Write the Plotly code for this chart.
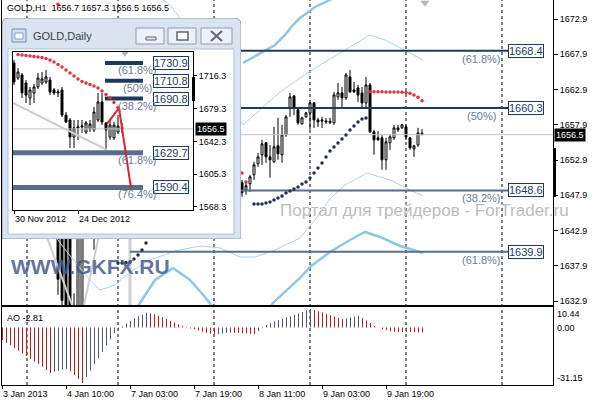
import plotly.graph_objects as go

W, H = 596, 400
FONT = "Liberation Sans"

# ======================= GOLD,H1 (main chart) =======================
h1_bar = [14, 15, 16, 17, 18, 19, 20, 21, 23,
          60, 61, 62, 63, 64, 65, 66, 67, 68, 69, 70, 71, 72, 73, 74, 75, 76, 77, 78, 79,
          80, 81, 82, 83, 84, 85, 86, 87, 88, 89, 90, 91, 92, 93, 94, 95, 96, 97, 98, 99,
          100, 101, 102, 103, 104, 105]
h1_open = [1648.0, 1645.0, 1646.0, 1643.0, 1629.0, 1630.0, 1631.5, 1647.0, 1648.0,
           1649.68, 1648.69, 1649.54, 1650.81, 1652.37, 1653.65, 1655.35, 1653.36, 1652.65, 1654.92,
           1653.65, 1656.48, 1660.30, 1662.00, 1660.02, 1658.04, 1659.03, 1659.59, 1661.01, 1658.60,
           1658.60, 1658.46, 1658.20, 1658.18, 1661.86, 1662.43, 1661.72, 1664.69, 1662.85, 1663.14,
           1662.43, 1661.01, 1663.56, 1656.90, 1656.05, 1656.05, 1652.94, 1655.35, 1656.05, 1657.19,
           1657.47, 1657.61, 1656.05, 1654.50, 1655.06, 1656.7]
h1_high = [1650.0, 1647.0, 1647.5, 1645.0, 1634.0, 1648.0, 1649.0, 1650.0, 1650.0,
           1650.10, 1649.68, 1650.81, 1652.65, 1653.93, 1655.77, 1655.49, 1655.06, 1657.61, 1658.89,
           1657.90, 1659.31, 1662.43, 1662.14, 1660.44, 1659.03, 1659.73, 1661.15, 1661.15, 1658.89,
           1659.03, 1658.89, 1658.90, 1662.57, 1663.84, 1663.28, 1665.26, 1665.69, 1663.99, 1663.56,
           1663.28, 1664.69, 1663.84, 1657.19, 1657.00, 1656.48, 1656.05, 1656.48, 1657.90, 1657.90,
           1658.04, 1657.90, 1656.20, 1655.06, 1657.47, 1657.3]
h1_low = [1633.8, 1630.0, 1628.0, 1626.0, 1626.5, 1629.0, 1630.0, 1643.0, 1640.2,
          1647.70, 1647.98, 1648.40, 1650.10, 1651.94, 1652.23, 1652.51, 1650.39, 1652.51, 1652.94,
          1652.51, 1656.20, 1659.03, 1659.31, 1657.90, 1657.90, 1658.89, 1657.19, 1657.47, 1657.61,
          1657.47, 1658.04, 1658.00, 1657.90, 1661.44, 1660.44, 1661.44, 1662.43, 1662.43, 1661.15,
          1660.44, 1660.30, 1656.76, 1653.65, 1655.63, 1651.52, 1651.52, 1654.35, 1655.77, 1656.90,
          1657.33, 1655.77, 1654.35, 1653.36, 1654.78, 1656.5]
h1_close = [1636.0, 1633.0, 1630.0, 1628.5, 1631.0, 1646.0, 1647.5, 1648.5, 1647.0,
            1648.26, 1649.26, 1650.53, 1652.23, 1653.36, 1655.20, 1653.36, 1652.94, 1654.78, 1653.79,
            1656.48, 1659.03, 1661.86, 1660.30, 1658.18, 1658.89, 1659.59, 1661.01, 1658.60, 1658.32,
            1658.46, 1658.32, 1658.40, 1662.14, 1662.43, 1661.72, 1664.98, 1662.57, 1662.57, 1662.14,
            1661.01, 1663.56, 1656.90, 1655.77, 1655.77, 1652.94, 1655.49, 1656.20, 1657.47, 1657.47,
            1657.90, 1656.20, 1654.64, 1654.92, 1656.76, 1656.5]
h1_last = 1656.5
h1_header = "GOLD,H1  1656.7 1657.3 1656.5 1656.5"

# Parabolic SAR (below price = dark, above price = red)
sar_up_bar = [29, 30, 31, 32, 33, 34, 35, 36,
              63, 64, 65, 66, 67, 68, 69, 70, 71, 72, 73, 74, 75, 76, 77, 78, 79, 80, 81, 82,
              83, 84, 85, 86, 87, 88, 89, 90, 91]
sar_up_val = [1638.31, 1638.31, 1638.38, 1638.45, 1638.88, 1639.45, 1640.15, 1641.15,
              1646.68, 1646.68, 1646.68, 1646.82, 1646.96, 1647.24, 1647.53, 1647.81, 1648.24,
              1648.52, 1648.80, 1649.09, 1649.51, 1649.80, 1650.36, 1651.07, 1651.78, 1652.49,
              1653.34, 1654.19, 1654.76, 1655.32, 1655.89, 1656.46, 1657.17, 1657.74, 1658.30,
              1658.73, 1658.87]
sar_dn_bar = [14, 60, 61, 92, 93, 94, 95, 96, 97, 98, 99, 100, 101, 102, 103, 104, 105]
sar_dn_val = [1675.0, 1651.07, 1649.80, 1662.60, 1662.60, 1662.59, 1662.58, 1662.57, 1662.56,
              1662.55, 1662.54, 1662.52, 1662.50, 1662.37, 1662.13, 1661.80, 1661.32]

# Bollinger-type envelopes (thin and thick light-blue curves)
thin_up_bar = [37, 42, 46.25, 53.25, 60.25, 64.5, 69.5, 74.5, 79.5, 85.75, 92, 95.75, 99.5, 105.25]
thin_up_val = [1677.0, 1674.9, 1671.77, 1664.97, 1657.88, 1660.0, 1662.56, 1664.54, 1666.38,
               1668.51, 1670.64, 1669.93, 1668.79, 1667.09]
thin_lo_bar = [12, 14.5, 18.25, 22, 24.5, 28.25, 32, 37, 43.25, 49.5, 54.5, 59.5, 63.25, 68.25,
               74.5, 78.25, 82, 85.75, 91.25, 97, 102, 105.25]
thin_lo_val = [1643.27, 1641.15, 1638.45, 1635.9, 1634.48, 1635.19, 1637.03, 1638.74, 1640.01,
               1640.72, 1640.44, 1639.16, 1639.16, 1640.15, 1641.86, 1644.41, 1647.38, 1649.37,
               1651.07, 1650.08, 1648.66, 1647.81]
thick_up_bar = [60.25, 65, 68.25, 70.75, 72.5, 74.5, 78.25, 82, 84.5]
thick_up_val = [1666.67, 1668.23, 1669.22, 1670.64, 1671.91, 1673.05, 1674.61, 1675.6, 1676.45]
thick_lo_bar = [29.5, 34.5, 38.25, 42.75, 47, 50.75, 53.25, 59.5, 65.75, 67.75, 74.5, 77, 82,
                87, 90.75, 94.5, 99.5, 105.25]
thick_lo_val = [1628.8, 1632.64, 1635.9, 1637.6, 1635.9, 1633.49, 1631.65, 1628.8, 1630.94,
                1632.64, 1636.18, 1637.74, 1639.87, 1641.57, 1642.71, 1642.0, 1640.72, 1639.73]

# light-grey trend lines
gray1_bar = [8, 18]
gray1_val = [1646.9, 1631.6]
gray2_bar = [20.5, 28]
gray2_val = [1632.35, 1652.1]
gray_vert_bar = [32, 32]
gray_vert_val = [1625.0, 1650.0]

# Fibonacci levels on H1
fib_levels = [1668.4, 1660.3, 1648.6, 1639.9]
fib_pct = ["(61.8%)", "(50%)", "(38.2%)", "(61.8%)"]
fib_start = [40, 40, 40, 32]
fib_end = 126.5
fib_label_bar = 119.9
fib_colors = ["#1f3a5f", "#1f3a5f", "#5b6d8d", "#5b6d8d"]

h1_tick_bar = [0, 16, 32, 48, 64, 80, 96]
h1_tick_text = ["3 Jan 2013", "4 Jan 10:00", "7 Jan 03:00", "7 Jan 19:00",
                "8 Jan 11:00", "9 Jan 03:00", "9 Jan 19:00"]
h1_price_ticks = [1632.9, 1637.9, 1642.9, 1647.9, 1652.9, 1657.9, 1662.9, 1667.9, 1672.9]
day_sep_bar = [6.25, 29, 53, 77, 101, 125]
shift_mark_bar = [105.75]
shift_mark_val = [1675.2]

# Awesome Oscillator
ao_bar = list(range(106))
ao_val = [-7.0, -8.5, -10.0, -11.5, -13.0, -14.5, -16.0, -17.5, -19.0, -20.5, -22.0, -23.8, -25.5,
          -24.8, -24.2, -23.6, -23.2,
          -24.5, -26.6, -28.9, -31.15,
          -27.6, -24.1, -20.6, -17.1, -13.6, -10.1, -6.6, -3.0, -0.9,
          0.7, 2.3, 3.9, 5.2, 6.4, 7.4, 8.3,
          8.1, 7.5, 6.7, 5.8, 4.8, 3.8, 2.8, 1.8, 0.9, 0.2,
          -0.5, -1.1, -1.7, -2.3, -2.9, -3.5, -3.8,
          -3.6, -3.3, -3.0, -2.8,
          -2.9, -3.1, -3.2, -3.4, -3.5, -3.6,
          -2.0, -0.3, 1.5, 2.5, 3.4, 4.3, 5.0, 5.7, 6.4, 7.1, 7.9, 8.8, 9.7, 10.44,
          9.9, 9.2, 8.4, 7.6, 6.9, 6.2, 5.5, 4.8,
          5.2, 5.7, 6.2, 6.6,
          5.4, 4.0, 2.5, 0.9, 0.1,
          -0.9, -1.5, -2.0, -2.3, -2.45, -2.55, -2.4, -2.5, -2.6, -2.7, -2.81]
ao_ticks = [10.44, 0.0, -31.15]
ao_tick_text = ["10.44", "0.00", "-31.15"]

# ======================= GOLD,Daily (inset window) =======================
d1_bar = list(range(28))
d1_open = [1731.0, 1714.0, 1717.4, 1708.4, 1691.4, 1697.1, 1703.9, 1708.4, 1709.5, 1711.8,
           1700.5, 1697.1, 1700.5, 1672.2, 1666.6, 1647.4, 1657.5, 1658.7, 1653.0, 1656.4,
           1655.3, 1666.6, 1686.9, 1663.2, 1647.4, 1646.3, 1653.0, 1658.0]
d1_high = [1734.4, 1725.3, 1719.7, 1711.8, 1703.9, 1707.3, 1719.7, 1720.8, 1723.1, 1715.2,
           1702.7, 1701.6, 1703.9, 1675.6, 1668.8, 1666.6, 1666.6, 1666.6, 1665.4, 1666.6,
           1681.3, 1697.1, 1697.1, 1664.3, 1666.6, 1664.3, 1672.2, 1663.2]
d1_low = [1706.1, 1711.8, 1691.4, 1685.8, 1683.5, 1685.8, 1701.6, 1706.1, 1707.3, 1694.8,
          1694.8, 1692.6, 1670.0, 1663.2, 1634.9, 1634.9, 1644.0, 1651.9, 1650.8, 1653.0,
          1653.0, 1664.3, 1660.9, 1632.7, 1644.0, 1644.0, 1650.8, 1651.9]
d1_close = [1709.5, 1720.8, 1697.1, 1694.8, 1700.5, 1703.9, 1714.0, 1712.9, 1715.2, 1698.2,
            1697.1, 1698.2, 1672.2, 1664.3, 1647.4, 1657.5, 1658.7, 1659.8, 1663.2, 1662.0,
            1675.6, 1686.9, 1664.3, 1655.3, 1660.9, 1660.9, 1659.8, 1656.5]
d1_sar_bar = list(range(1, 27))
d1_sar_val = [1740.6, 1740.0, 1739.5, 1738.9, 1738.3, 1737.8, 1737.2, 1736.1, 1734.4, 1732.1,
              1729.3, 1726.5, 1723.1, 1719.7, 1716.3, 1712.9, 1710.1, 1708.4, 1706.7, 1705.0,
              1702.7, 1699.4, 1695.4, 1691.4, 1686.4, 1680.7]
d1_fib_levels = [1730.9, 1710.8, 1690.8, 1629.7, 1590.4]
d1_fib_pct = ["(61.8%)", "(50%)", "(38.2%)", "(61.8%)", "(76.4%)"]
d1_fib_start = [22.75, 22.75, 22.75, -0.25, -0.25]
d1_fib_end = 32.25
d1_fib_box_bar = 34.75
d1_fib_label_bar = 30.9
d1_fib_colors = ["#1f3a5f", "#1f3a5f", "#1f3a5f", "#5a6c8c", "#5a6c8c"]
d1_fib_widths = [4, 4, 4, 5, 5]
d1_proj_bar = [23.25, 26.25, 29.25]
d1_proj_val = [1662.1, 1680.1, 1589.7]
d1_trend_bar = [-0.25, 23.25]
d1_trend_val = [1685.8, 1632.7]
d1_tick_bar = [0, 16]
d1_tick_text = ["30 Nov 2012", "24 Dec 2012"]
d1_price_ticks = [1568.3, 1605.3, 1642.3, 1679.3, 1716.3]
d1_sep_bar = [1, 21]
d1_last = 1656.5
d1_shift_bar = [27.75]
d1_shift_val = [1742.6]


def px_x(px):
    return px / W


def px_y(py):
    return 1 - py / H


fig = go.Figure()
NOHOVER = dict(hoverinfo="skip", showlegend=False)


def line(x, y, color, width, xa="x", ya="y", dash=None):
    fig.add_trace(go.Scatter(x=x, y=y, mode="lines",
                             line=dict(color=color, width=width, dash=dash),
                             xaxis=xa, yaxis=ya, **NOHOVER))


# ---- main pane ----
line(thin_up_bar, thin_up_val, "#a9d3ee", 1)
line(thin_lo_bar, thin_lo_val, "#a9d3ee", 1)
line(thick_up_bar, thick_up_val, "#8cc6e8", 2.5)
line(thick_lo_bar, thick_lo_val, "#8cc6e8", 2.5)
line(gray1_bar, gray1_val, "#cfcfcf", 2)
line(gray2_bar, gray2_val, "#cfcfcf", 2)
line(gray_vert_bar, gray_vert_val, "#cfcfcf", 3)
line([0, 137.75], [h1_last, h1_last], "#c4c4c4", 1)
for lv, st, col in zip(fib_levels, fib_start, fib_colors):
    line([st, fib_end], [lv, lv], col, 2)

fig.add_trace(go.Candlestick(
    x=h1_bar, open=h1_open, high=h1_high, low=h1_low, close=h1_close,
    increasing=dict(line=dict(color="black", width=1), fillcolor="white"),
    decreasing=dict(line=dict(color="black", width=1), fillcolor="black"),
    whiskerwidth=0, xaxis="x", yaxis="y", **NOHOVER))

fig.add_trace(go.Scatter(x=sar_up_bar, y=sar_up_val, mode="markers",
                         marker=dict(color="#1f2f4f", size=3.5), xaxis="x", yaxis="y", **NOHOVER))
fig.add_trace(go.Scatter(x=sar_dn_bar, y=sar_dn_val, mode="markers",
                         marker=dict(color="#e0323c", size=3.5), xaxis="x", yaxis="y", **NOHOVER))
fig.add_trace(go.Scatter(x=shift_mark_bar, y=shift_mark_val, mode="markers",
                         marker=dict(color="#b8b8b8", size=8, symbol="triangle-down"),
                         xaxis="x", yaxis="y", **NOHOVER))

# ---- AO pane ----
AO_RED, AO_GRAY = "#b82020", "#4f5868"
ao_colors = [AO_RED if (i == 0 or v < ao_val[i - 1]) else AO_GRAY for i, v in enumerate(ao_val)]
fig.add_trace(go.Bar(x=ao_bar, y=ao_val, width=0.25, offset=0,
                     marker=dict(color=ao_colors, line=dict(width=0)),
                     xaxis="x2", yaxis="y2", **NOHOVER))

# ---- inset window frame subplot (dummy trace so subplot exists) ----
fig.add_trace(go.Scatter(x=[100], y=[100], mode="markers", marker=dict(opacity=0),
                         xaxis="x3", yaxis="y3", **NOHOVER))

# ---- inset daily chart ----
line([-0.25, 44.75], [d1_last, d1_last], "#c4c4c4", 1, "x4", "y4")
line(d1_trend_bar, d1_trend_val, "#cdcdcd", 2, "x4", "y4")
for lv, st, col, wd in zip(d1_fib_levels, d1_fib_start, d1_fib_colors, d1_fib_widths):
    line([st, d1_fib_end], [lv, lv], col, wd, "x4", "y4")
fig.add_trace(go.Candlestick(
    x=d1_bar, open=d1_open, high=d1_high, low=d1_low, close=d1_close,
    increasing=dict(line=dict(color="black", width=1), fillcolor="white"),
    decreasing=dict(line=dict(color="black", width=1), fillcolor="black"),
    whiskerwidth=0, xaxis="x4", yaxis="y4", **NOHOVER))
fig.add_trace(go.Scatter(x=d1_sar_bar, y=d1_sar_val, mode="markers",
                         marker=dict(color="#e0323c", size=3.5), xaxis="x4", yaxis="y4", **NOHOVER))
line(d1_proj_bar, d1_proj_val, "#e3202c", 2, "x4", "y4")
fig.add_trace(go.Scatter(x=d1_shift_bar, y=d1_shift_val, mode="markers",
                         marker=dict(color="#b8b8b8", size=8, symbol="triangle-down"),
                         xaxis="x4", yaxis="y4", **NOHOVER))

# ---------------- shapes ----------------
shapes = []
for b in day_sep_bar:
    shapes.append(dict(type="line", xref="x", yref="paper", x0=b, x1=b,
                       y0=px_y(385), y1=1, layer="below",
                       line=dict(color="black", width=1, dash="3px,3px")))
for b in d1_sep_bar:
    shapes.append(dict(type="line", xref="x4", yref="y4 domain", x0=b, x1=b, y0=0, y1=1,
                       layer="below", line=dict(color="black", width=1, dash="3px,3px")))

# window chrome (x3/y3 are pixel-like coordinates of the window)
CH = dict(xref="x3", yref="y3", layer="below")
shapes += [
    dict(type="path", path="M2,239 L2,25 Q2,18 9,18 L234,18 Q241,18 241,25 L241,239 Z",
         fillcolor="#d9e4f0", line=dict(color="#8b9db4", width=1), **CH),
    dict(type="rect", x0=8, x1=234, y0=49, y1=234, fillcolor="white",
         line=dict(color="#b3c0d0", width=1), **CH),
    dict(type="rect", x0=12, x1=26, y0=29, y1=42, fillcolor="#cfe0f4",
         line=dict(color="#6a8fbf", width=1), **CH),
    dict(type="rect", x0=15, x1=23, y0=33, y1=39, fillcolor="white",
         line=dict(color="#7fa0c8", width=1), **CH),
]
for x0, x1 in [(136, 164), (168, 196), (201, 232)]:
    shapes.append(dict(type="rect", x0=x0, x1=x1, y0=28, y1=44, fillcolor="#edf2f8",
                       line=dict(color="#8d9db2", width=1), **CH))
shapes += [
    dict(type="rect", x0=146, x1=156, y0=37, y1=40, fillcolor="#dfe5ec",
         line=dict(color="#5b6677", width=1), **CH),
    dict(type="rect", x0=177, x1=188, y0=32, y1=40, fillcolor="white",
         line=dict(color="#5b6677", width=1.5), **CH),
    dict(type="line", x0=211, x1=222, y0=31, y1=41, line=dict(color="#5b6677", width=2), **CH),
    dict(type="line", x0=211, x1=222, y0=41, y1=31, line=dict(color="#5b6677", width=2), **CH),
]
# black markers on price scales
shapes += [
    dict(type="rect", xref="paper", yref="paper", x0=px_x(553), x1=px_x(556),
         y0=px_y(197), y1=px_y(148), fillcolor="black", line=dict(width=0), layer="above"),
    dict(type="rect", xref="paper", yref="paper", x0=px_x(192), x1=px_x(195),
         y0=px_y(101), y1=px_y(77), fillcolor="black", line=dict(width=0), layer="above"),
]

# ---------------- annotations ----------------
ann = []
ann.append(dict(xref="paper", yref="paper", x=px_x(5), y=px_y(8), xanchor="left", yanchor="middle",
                text=h1_header, showarrow=False, font=dict(size=9, color="black")))
for lv, pct in zip(fib_levels, fib_pct):
    ann.append(dict(xref="x", yref="y", x=fib_end, y=lv, xanchor="left", yanchor="middle",
                    text=f"{lv:.1f}", showarrow=False, bgcolor="white",
                    bordercolor="#1f3a5f", borderwidth=1, borderpad=0,
                    font=dict(size=11, color="#1f3a5f")))
    ann.append(dict(xref="x", yref="y", x=fib_label_bar, y=lv, yshift=-8, xanchor="center",
                    yanchor="middle", text=pct, showarrow=False,
                    font=dict(size=11, color="#6b7c97")))
ann.append(dict(xref="paper", yref="y", x=px_x(554), y=h1_last, xanchor="left", yanchor="middle",
                text=f"{h1_last:.1f}", showarrow=False, bgcolor="black", borderpad=1,
                font=dict(size=9, color="white")))
ann.append(dict(xref="paper", yref="paper", x=px_x(278), y=px_y(210), xanchor="left",
                yanchor="middle", text="Портал для трейдеров - ForTrader.ru", showarrow=False,
                font=dict(size=17, color="#bcbcbc")))
ann.append(dict(xref="paper", yref="paper", x=px_x(9), y=px_y(266), xanchor="left",
                yanchor="middle", text="<b>WWW.GKFX.RU</b>", showarrow=False,
                font=dict(size=21, color="rgba(72,92,140,0.85)")))
ann.append(dict(xref="paper", yref="paper", x=px_x(5), y=px_y(318), xanchor="left",
                yanchor="middle", text=f"AO {ao_val[-1]:.2f}", showarrow=False,
                font=dict(size=9, color="black")))
for v, t, py in zip(ao_ticks, ao_tick_text, [314, 328, 378]):
    ann.append(dict(xref="paper", yref="paper", x=px_x(555), y=px_y(py), xanchor="left",
                    yanchor="middle", text=t, showarrow=False, font=dict(size=9, color="black")))
# inset texts
ann.append(dict(xref="x3", yref="y3", x=31, y=36, xanchor="left", yanchor="middle",
                text="GOLD,Daily", showarrow=False, font=dict(size=11, color="#3c3c3c")))
for lv, pct in zip(d1_fib_levels, d1_fib_pct):
    ann.append(dict(xref="x4", yref="y4", x=d1_fib_box_bar, y=lv, xanchor="left",
                    yanchor="middle", text=f"{lv:.1f}", showarrow=False, bgcolor="white",
                    bordercolor="#1f3a5f", borderwidth=1, borderpad=0,
                    font=dict(size=11, color="#1f3a5f")))
    ann.append(dict(xref="x4", yref="y4", x=d1_fib_label_bar, y=lv, yshift=-7, xanchor="center",
                    yanchor="middle", text=pct, showarrow=False,
                    font=dict(size=11, color="#6b7c97")))
ann.append(dict(xref="paper", yref="y4", x=px_x(195), y=d1_last, xanchor="left", yanchor="middle",
                text=f"{d1_last:.1f}", showarrow=False, bgcolor="black", borderpad=1,
                font=dict(size=9, color="white")))

AX = dict(showgrid=False, zeroline=False, linecolor="black", linewidth=1, tickcolor="black",
          automargin=False, fixedrange=True)

fig.update_layout(
    template="none",
    width=W, height=400, autosize=False,
    margin=dict(l=0, r=0, t=0, b=0),
    paper_bgcolor="white", plot_bgcolor="white",
    font=dict(family=FONT, size=9, color="black"),
    showlegend=False,
    hovermode=False,
    xaxis=dict(domain=[px_x(2), px_x(553)], range=[0, 137.75], anchor="y",
               showline=True, ticks="", showticklabels=False,
               rangeslider=dict(visible=False), **AX),
    yaxis=dict(domain=[px_y(305), 1], range=[1632.35, 1675.6], anchor="x", side="right",
               showline=True, mirror=True, ticks="outside", ticklen=4,
               tickvals=h1_price_ticks, ticktext=[f"{v:.1f}" for v in h1_price_ticks],
               tickfont=dict(size=9), **AX),
    xaxis2=dict(domain=[px_x(2), px_x(553)], range=[0, 137.75], anchor="y2",
                showline=True, mirror=True, ticks="outside", ticklen=3,
                tickvals=h1_tick_bar, ticktext=h1_tick_text,
                ticklabelposition="outside right", tickfont=dict(size=9), **AX),
    yaxis2=dict(domain=[px_y(385), px_y(307)], range=[-32.27, 11.56], anchor="x2",
                side="right", showline=True, mirror=True, ticks="", showticklabels=False, **AX),
    xaxis3=dict(domain=[px_x(2), px_x(241)], range=[2, 241], anchor="y3", visible=False, **AX),
    yaxis3=dict(domain=[px_y(239), px_y(18)], range=[239, 18], anchor="x3", visible=False, **AX),
    xaxis4=dict(domain=[px_x(13), px_x(193)], range=[-0.25, 44.75], anchor="y4",
                showline=True, mirror=True, ticks="outside", ticklen=3,
                tickvals=d1_tick_bar, ticktext=d1_tick_text,
                ticklabelposition="outside right", tickfont=dict(size=9),
                rangeslider=dict(visible=False), **AX),
    yaxis4=dict(domain=[px_y(210), px_y(52)], range=[1564.9, 1743.4], anchor="x4",
                side="right", showline=True, mirror=True, ticks="outside", ticklen=3,
                tickvals=d1_price_ticks, ticktext=[f"{v:.1f}" for v in d1_price_ticks],
                tickfont=dict(size=9), **AX),
    shapes=shapes,
    annotations=ann,
)

fig.write_html("out.html", config={"displayModeBar": False, "staticPlot": True},
               post_script="document.documentElement.style.margin='0';"
                           "document.body.style.margin='0';document.body.style.padding='0';")
